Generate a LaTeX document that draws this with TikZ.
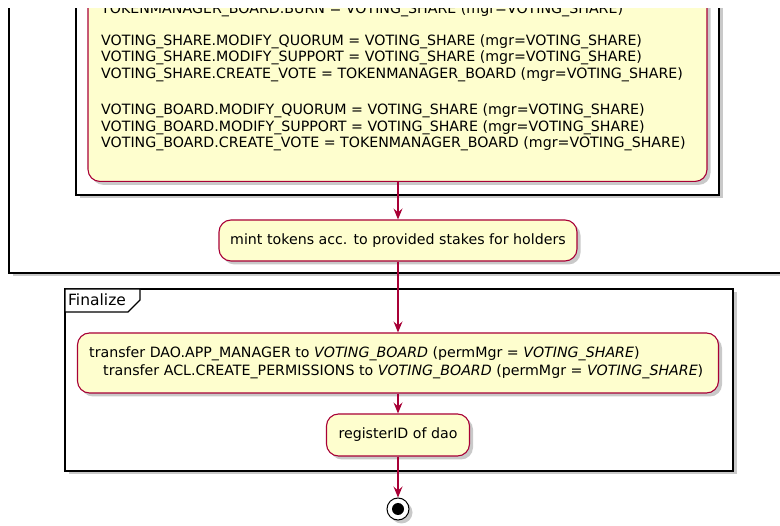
\documentclass[tikz,border=0pt]{standalone}
\usepackage{fontspec}
\setmainfont{DejaVu Sans}
\usetikzlibrary{arrows.meta,shadows}
\definecolor{actfill}{HTML}{FEFECE}
\definecolor{actline}{HTML}{A80036}
\tikzset{
  sh/.style={drop shadow={shadow xshift=3.5pt,shadow yshift=-3.5pt,opacity=0.35,fill=black!60}},
  frame/.style={draw=black,line width=1.4pt,fill=white,sh},
  activity/.style={draw=actline,line width=1.1pt,fill=actfill,rounded corners=12pt,sh,
    inner sep=0pt,font=\fontsize{14.2}{16}\selectfont},
  txt/.style={inner sep=0pt,anchor=base west,font=\fontsize{14.2}{16}\selectfont},
  flow/.style={draw=actline,line width=1.1pt,-{Stealth[length=11pt,width=9pt,inset=4pt]}},
}
\begin{document}
\begin{tikzpicture}[x=1pt,y=-1pt]
\useasboundingbox[fill=white] (0,0) rectangle (780,526);
\begin{scope}
\clip (0,9) rectangle (780,526);
% outer group frame
\path[frame] (9,-40) rectangle (820,273);
% inner group frame
\path[frame] (76,-40) rectangle (719,195);
% permission settings activity
\node[activity,minimum width=619pt,minimum height=260pt,anchor=south] (perm) at (397.5,182) {};
\node[txt] (p0) at (101,14) {TOKENMANAGER\_BOARD.BURN = VOTING\_SHARE (mgr=VOTING\_SHARE)};
\node[txt] (p1) at (101,46) {VOTING\_SHARE.MODIFY\_QUORUM = VOTING\_SHARE (mgr=VOTING\_SHARE)};
\node[txt] (p2) at (101,62) {VOTING\_SHARE.MODIFY\_SUPPORT = VOTING\_SHARE (mgr=VOTING\_SHARE)};
\node[txt] (p3) at (101,79) {VOTING\_SHARE.CREATE\_VOTE = TOKENMANAGER\_BOARD (mgr=VOTING\_SHARE)};
\node[txt] (p4) at (101,115) {VOTING\_BOARD.MODIFY\_QUORUM = VOTING\_SHARE (mgr=VOTING\_SHARE)};
\node[txt] (p5) at (101,132) {VOTING\_BOARD.MODIFY\_SUPPORT = VOTING\_SHARE (mgr=VOTING\_SHARE)};
\node[txt] (p6) at (101,148) {VOTING\_BOARD.CREATE\_VOTE = TOKENMANAGER\_BOARD (mgr=VOTING\_SHARE)};
\end{scope}
% mint activity
\node[activity,minimum width=358pt,minimum height=41pt] (mint) at (398,240.5) {mint tokens acc. to provided stakes for holders};
% Finalize frame with its tab
\path[frame] (65,289) rectangle (733,471);
\draw[line width=1.2pt,fill=white] (65,289) -- (140,289) -- (140,300) -- (128,312) -- (65,312) -- cycle;
\node[txt,font=\fontsize{15.5}{17}\selectfont] (fin) at (68,306) {Finalize};
% transfer activity
\node[activity,minimum width=641pt,minimum height=60pt] (xfer) at (398,363) {};
\node[txt] (x1) at (89,358) {transfer DAO.APP\_MANAGER to \textit{VOTING\_BOARD} (permMgr = \textit{VOTING\_SHARE})};
\node[txt] (x2) at (103,376) {transfer ACL.CREATE\_PERMISSIONS to \textit{VOTING\_BOARD} (permMgr = \textit{VOTING\_SHARE})};
% register activity
\node[activity,minimum width=143pt,minimum height=42pt] (reg) at (398,435) {registerID of dao};
% end state
\node[circle,draw=black,line width=1pt,fill=white,minimum size=22pt,inner sep=0pt,sh] (end) at (398,509) {};
\fill[black] (end.center) circle (6pt);
% flow
\draw[flow] (perm.south -| mint.north) -- (mint.north);
\draw[flow] (mint.south) -- (xfer.north);
\draw[flow] (xfer.south) -- (reg.north);
\draw[flow] (reg.south) -- (end.north);
\end{tikzpicture}
\end{document}
